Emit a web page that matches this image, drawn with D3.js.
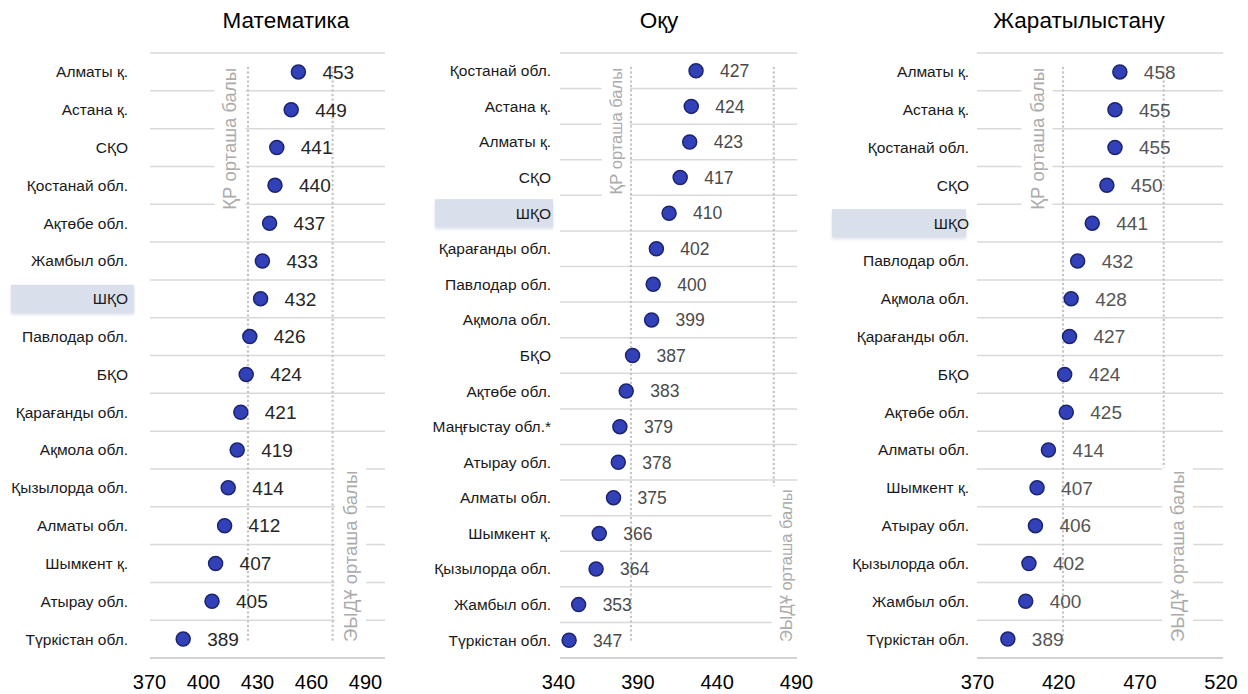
<!DOCTYPE html>
<html>
<head>
<meta charset="utf-8">
<script src="https://cdn.jsdelivr.net/npm/d3@7/dist/d3.min.js"></script>
<style>
  html, body { margin: 0; padding: 0; background: #ffffff; }
  svg { display: block; font-family: "Liberation Sans", Arial, Helvetica, sans-serif; }
</style>
</head>
<body>
<svg id="chart" width="1248" height="694"></svg>
<script>
// ---------- DATA ----------
const titles = ["Математика", "Оқу", "Жаратылыстану"];

const mathRegions = ["Алматы қ.", "Астана қ.", "СҚО", "Қостанай обл.", "Ақтөбе обл.", "Жамбыл обл.", "ШҚО",
  "Павлодар обл.", "БҚО", "Қарағанды обл.", "Ақмола обл.", "Қызылорда обл.", "Алматы обл.", "Шымкент қ.",
  "Атырау обл.", "Түркістан обл."];
const mathScores = [453, 449, 441, 440, 437, 433, 432, 426, 424, 421, 419, 414, 412, 407, 405, 389];

const readRegions = ["Қостанай обл.", "Астана қ.", "Алматы қ.", "СҚО", "ШҚО", "Қарағанды обл.", "Павлодар обл.",
  "Ақмола обл.", "БҚО", "Ақтөбе обл.", "Маңғыстау обл.*", "Атырау обл.", "Алматы обл.", "Шымкент қ.",
  "Қызылорда обл.", "Жамбыл обл.", "Түркістан обл."];
const readScores = [427, 424, 423, 417, 410, 402, 400, 399, 387, 383, 379, 378, 375, 366, 364, 353, 347];

const sciRegions = ["Алматы қ.", "Астана қ.", "Қостанай обл.", "СҚО", "ШҚО", "Павлодар обл.", "Ақмола обл.",
  "Қарағанды обл.", "БҚО", "Ақтөбе обл.", "Алматы обл.", "Шымкент қ.", "Атырау обл.", "Қызылорда обл.",
  "Жамбыл обл.", "Түркістан обл."];
const sciScores = [458, 455, 455, 450, 441, 432, 428, 427, 424, 425, 414, 407, 406, 402, 400, 389];

const kzMeans = [425, 386, 423];     // ҚР орташа балы
const oecdMeans = [472, 476, 485];   // ЭЫДҰ орташа балы

const mathTicks = [370, 400, 430, 460, 490];
const readTicks = [340, 390, 440, 490];
const sciTicks = [370, 420, 470, 520];

const highlightRegion = "ШҚО";
const kzLabel = "ҚР орташа балы";
const oecdLabel = "ЭЫДҰ орташа балы";

// ---------- LAYOUT (positions / styles only) ----------
const layout = [
  { x0: 149, x1: 365, gx0: 150, gx1: 385, labelRight: 128, titleX: 286, hx0: 11, hx1: 134,
    kzOff: -18, oecdOff: 18, refFont: 18.5, valFont: 19, valColor: "#262626" },
  { x0: 558, x1: 796, gx0: 560, gx1: 797, labelRight: 551, titleX: 659, hx0: 435, hx1: 553,
    kzOff: -15, oecdOff: 12, refFont: 16.5, valFont: 17.5, valColor: "#4a4a4a" },
  { x0: 977, x1: 1220.5, gx0: 977, gx1: 1223, labelRight: 969, titleX: 1079, hx0: 832, hx1: 966,
    kzOff: -26, oecdOff: 14, refFont: 18.5, valFont: 19, valColor: "#555555" }
];
const gridTop = 53, gridBottom = 658;
const refTop = 68, refBottom = 641;

const panels = [
  { regions: mathRegions, scores: mathScores, ticks: mathTicks },
  { regions: readRegions, scores: readScores, ticks: readTicks },
  { regions: sciRegions, scores: sciScores, ticks: sciTicks }
];

const svg = d3.select("#chart");

const defs = svg.append("defs");
const f = defs.append("filter").attr("id", "shadow").attr("x", "-10%").attr("y", "-30%")
  .attr("width", "120%").attr("height", "180%");
f.append("feDropShadow").attr("dx", 0).attr("dy", 2).attr("stdDeviation", 1.6)
  .attr("flood-color", "#8090b0").attr("flood-opacity", 0.28);

panels.forEach((p, i) => {
  const L = layout[i];
  const g = svg.append("g");
  const x = d3.scaleLinear().domain([p.ticks[0], p.ticks[p.ticks.length - 1]]).range([L.x0, L.x1]);
  const y = d3.scaleBand().domain(p.regions).range([gridTop, gridBottom]).paddingInner(0).paddingOuter(0);
  const bw = y.bandwidth();

  // title
  g.append("text").attr("x", L.titleX).attr("y", 28).attr("text-anchor", "middle")
    .attr("font-size", 22.5).attr("fill", "#000").text(titles[i]);

  // highlight box
  const hy = y(highlightRegion) + bw / 2;
  g.append("rect").attr("x", L.hx0).attr("y", hy - 14).attr("width", L.hx1 - L.hx0).attr("height", 28)
    .attr("fill", "#d9e0ec").attr("filter", "url(#shadow)");

  // gridlines (row boundaries)
  const bounds = p.regions.map(r => y(r)).concat([gridBottom]);
  g.append("g").selectAll("line").data(bounds).join("line")
    .attr("x1", L.gx0).attr("x2", L.gx1)
    .attr("y1", d => d).attr("y2", d => d)
    .attr("stroke", (d, j) => j === bounds.length - 1 ? "#c4c4c4" : "#d9d9d9")
    .attr("stroke-width", 1.5);

  // reference dotted lines
  [kzMeans[i], oecdMeans[i]].forEach(v => {
    g.append("line").attr("x1", x(v)).attr("x2", x(v)).attr("y1", refTop).attr("y2", refBottom)
      .attr("stroke", "#c4c4c4").attr("stroke-width", 2.4)
      .attr("stroke-linecap", "round").attr("stroke-dasharray", "0.1 4.4");
  });

  // reference labels (rotated, white background)
  function refLabel(txt, cx, anchor, yPos) {
    const lg = g.append("g").attr("transform", `translate(${cx},${yPos}) rotate(-90)`);
    const t = lg.append("text").attr("x", 0).attr("y", 0).attr("dy", "0.35em")
      .attr("text-anchor", anchor).attr("font-size", L.refFont).attr("fill", "#ababab").text(txt);
    const bb = t.node().getBBox();
    lg.insert("rect", "text").attr("x", bb.x - 3).attr("y", bb.y - 5)
      .attr("width", bb.width + 6).attr("height", bb.height + 10).attr("fill", "#ffffff");
  }
  refLabel(kzLabel, x(kzMeans[i]) + L.kzOff, "end", refTop);
  refLabel(oecdLabel, x(oecdMeans[i]) + L.oecdOff, "start", refBottom + 1);

  // category labels
  g.append("g").selectAll("text").data(p.regions).join("text")
    .attr("x", L.labelRight).attr("y", d => y(d) + bw / 2).attr("dy", "0.35em")
    .attr("text-anchor", "end").attr("font-size", 15.5).attr("fill", "#1a1a1a").text(d => d);

  // dots
  g.append("g").selectAll("circle").data(p.scores).join("circle")
    .attr("cx", d => x(d)).attr("cy", (d, j) => y(p.regions[j]) + bw / 2).attr("r", 7)
    .attr("fill", "#3341b8").attr("stroke", "#1b2470").attr("stroke-width", 1.5);

  // value labels
  g.append("g").selectAll("text").data(p.scores).join("text")
    .attr("x", d => x(d) + 24).attr("y", (d, j) => y(p.regions[j]) + bw / 2).attr("dy", "0.36em")
    .attr("font-size", L.valFont).attr("fill", L.valColor).text(d => d);

  // x axis
  const ax = g.append("g").attr("transform", `translate(0,${gridBottom})`)
    .call(d3.axisBottom(x).tickValues(p.ticks).tickSize(0).tickPadding(17).tickFormat(d3.format("d")));
  ax.select(".domain").remove();
  ax.selectAll("text").attr("font-size", 20).attr("fill", "#000")
    .attr("font-family", "'Liberation Sans', Arial, Helvetica, sans-serif");
});
</script>
</body>
</html>
